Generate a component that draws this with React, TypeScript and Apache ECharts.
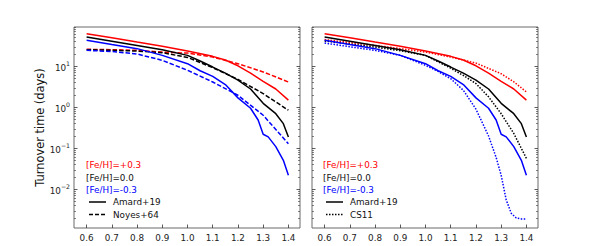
import React, { useEffect, useRef } from "react";
import * as echarts from "echarts";

// ---- data (mass in Msun, turnover time in days) ----
const AMARD_P03_M = [0.6, 0.7, 0.8, 0.9, 1.0, 1.1, 1.15, 1.2, 1.25, 1.3, 1.35, 1.4];
const AMARD_P03 = [62, 49.5, 39, 31, 23.7, 17.5, 14.3, 10.3, 6.8, 4.3, 2.8, 1.5];
const AMARD_00_M = [0.6, 0.7, 0.8, 0.9, 1.0, 1.05, 1.1, 1.15, 1.2, 1.25, 1.3, 1.35, 1.38, 1.4];
const AMARD_00 = [52, 41, 32.4, 25.5, 18.5, 13.5, 9.6, 6.8, 4.6, 2.8, 1.25, 0.7, 0.4, 0.19];
const AMARD_M03_M = [0.6, 0.7, 0.8, 0.9, 1.0, 1.05, 1.1, 1.15, 1.2, 1.25, 1.28, 1.3, 1.32, 1.35, 1.38, 1.4];
const AMARD_M03 = [43, 34, 27, 18.5, 11.6, 7.8, 5.7, 3.6, 1.7, 0.95, 0.49, 0.22, 0.19, 0.11, 0.051, 0.022];

const NOYES_M = [0.6, 0.7, 0.8, 0.9, 1.0, 1.1, 1.2, 1.3, 1.4];
const NOYES_P03 = [26, 25.5, 24.5, 22.3, 21, 16.8, 11.6, 7.3, 4.15];
const NOYES_00 = [25.5, 24.6, 23.6, 21.5, 16.5, 9.3, 4.8, 2.16, 0.85];
const NOYES_M03 = [24.5, 23, 20, 14, 8, 4.15, 1.97, 0.64, 0.13];

const CS11_P03_M = [0.6, 0.7, 0.8, 0.9, 1.0, 1.1, 1.2, 1.3, 1.35, 1.4];
const CS11_P03 = [45, 38, 32.4, 27, 22.3, 16.8, 12, 6.6, 4.2, 2.37];
const CS11_00_M = [0.6, 0.7, 0.8, 0.9, 1.0, 1.1, 1.15, 1.2, 1.25, 1.3, 1.35, 1.4];
const CS11_00 = [41.5, 35, 29.5, 24, 18.5, 9, 6, 3.8, 1.8, 0.7, 0.23, 0.057];
const CS11_M03_M = [0.6, 0.7, 0.8, 0.9, 1.0, 1.05, 1.1, 1.15, 1.2, 1.25, 1.28, 1.3, 1.32, 1.34, 1.36, 1.38, 1.4];
const CS11_M03 = [37, 30, 24.5, 18.5, 10.6, 7.5, 5, 2.6, 0.9, 0.2, 0.06, 0.022, 0.0055, 0.0026, 0.002, 0.0019, 0.0019];

const X_TICKS = [0.6, 0.7, 0.8, 0.9, 1.0, 1.1, 1.2, 1.3, 1.4];
const Y_MAJOR = [0.01, 0.1, 1, 10];
const Y_DECADES = [-3, -2, -1, 0, 1];
const Y_MINOR_MULT = [2, 3, 4, 5, 6, 7, 8, 9];

const X_MIN = 0.55;
const X_MAX = 1.446;
const Y_MIN = 0.00114;
const Y_MAX = 91;

const RED = "#ff0000";
const BLACK = "#000000";
const BLUE = "#0000ff";
const FONT = "DejaVu Sans";
const TICK_FS = 8.8;
const LEGEND_FS = 8.8;

const Y_MINOR = Y_DECADES.flatMap((d) => Y_MINOR_MULT.map((m) => m * Math.pow(10, d))).filter(
  (v) => v >= Y_MIN && v <= Y_MAX
);

const pairs = (m: number[], v: number[]) => m.map((x, i) => [x, v[i]]);

const DASH = [4.5, 2];
const DOT = [1.5, 1.5];

function lineSeries(m: number[], v: number[], color: string, dash: number[] | null, g: number) {
  return {
    type: "line",
    xAxisIndex: g,
    yAxisIndex: g * 4,
    data: pairs(m, v),
    symbol: "none",
    silent: true,
    lineStyle: { color, width: 1.5, type: dash ? dash : "solid", cap: "butt" },
    itemStyle: { color },
  };
}

const GRIDS = [
  { left: 74, top: 27, width: 226, height: 201 },
  { left: 312, top: 27, width: 226, height: 201 },
];

const TICK_COLOR = "#333";

function yAxes(g: number) {
  const base = {
    type: "log",
    gridIndex: g,
    min: Y_MIN,
    max: Y_MAX,
    axisLine: { show: false },
    splitLine: { show: false },
    minorTick: { show: false },
  };
  const supFmt = (v: number) => {
    const e = Math.round(Math.log10(v));
    return `{b|10}{s|${e < 0 ? "\u2212" + -e : e}}`;
  };
  return [
    {
      ...base,
      position: "left",
      axisTick: { show: true, inside: true, length: 3.5, customValues: Y_MAJOR, lineStyle: { color: TICK_COLOR, width: 0.8 } },
      axisLabel: {
        show: g === 0,
        customValues: Y_MAJOR,
        margin: 4,
        formatter: supFmt,
        rich: {
          b: { fontSize: TICK_FS, fontFamily: FONT, color: "#222", lineHeight: 12, verticalAlign: "bottom" },
          s: { fontSize: 6.2, fontFamily: FONT, color: "#222", lineHeight: 6, verticalAlign: "top" },
        },
      },
      name: g === 0 ? "Turnover time (days)" : "",
      nameLocation: "middle",
      nameGap: 24,
      nameTextStyle: { fontSize: 11.4, fontFamily: FONT, color: "#111" },
    },
    {
      ...base,
      position: "left",
      axisTick: { show: true, inside: true, length: 2, customValues: Y_MINOR, lineStyle: { color: TICK_COLOR, width: 0.6 } },
      axisLabel: { show: false },
    },
    {
      ...base,
      position: "right",
      axisTick: { show: true, inside: true, length: 3.5, customValues: Y_MAJOR, lineStyle: { color: TICK_COLOR, width: 0.8 } },
      axisLabel: { show: false },
    },
    {
      ...base,
      position: "right",
      axisTick: { show: true, inside: true, length: 2, customValues: Y_MINOR, lineStyle: { color: TICK_COLOR, width: 0.6 } },
      axisLabel: { show: false },
    },
  ];
}

function xAxis(g: number) {
  return {
    type: "value",
    gridIndex: g,
    min: X_MIN,
    max: X_MAX,
    axisLine: { show: false },
    splitLine: { show: false },
    axisTick: { show: true, inside: true, length: 3.5, customValues: X_TICKS, lineStyle: { color: TICK_COLOR, width: 0.8 } },
    axisLabel: {
      customValues: X_TICKS,
      margin: 5,
      fontSize: TICK_FS,
      fontFamily: FONT,
      color: "#222",
      formatter: (v: number) => v.toFixed(1),
    },
  };
}

function legendGraphics(x0: number, second: string, secondDash: number[]) {
  const font = `${LEGEND_FS}px "${FONT}"`;
  const t = (text: string, x: number, y: number, fill: string) => ({
    type: "text",
    x,
    y,
    silent: true,
    style: { text, fill, font, align: "left", verticalAlign: "middle" },
  });
  return [
    t("[Fe/H]=+0.3", x0, 165, RED),
    t("[Fe/H]=0.0", x0, 177.5, "#111"),
    t("[Fe/H]=-0.3", x0, 190, BLUE),
    {
      type: "line",
      silent: true,
      shape: { x1: x0 + 3, y1: 202, x2: x0 + 20, y2: 202 },
      style: { stroke: BLACK, lineWidth: 1.5 },
    },
    t("Amard+19", x0 + 27, 202, "#111"),
    {
      type: "line",
      silent: true,
      shape: { x1: x0 + 3, y1: 214.5, x2: x0 + 20, y2: 214.5 },
      style: { stroke: BLACK, lineWidth: 1.5, lineDash: secondDash },
    },
    t(second, x0 + 27, 214.5, "#111"),
  ];
}

export default function App() {
  const ref = useRef<HTMLDivElement>(null);
  useEffect(() => {
    if (!ref.current) return;
    const chart = echarts.init(ref.current, null, { renderer: "svg" });
    chart.setOption({
      animation: false,
      backgroundColor: "#ffffff",
      textStyle: { fontFamily: FONT },
      grid: GRIDS.map((g) => ({ ...g, show: true, borderColor: "#6a6a6a", borderWidth: 1, backgroundColor: "transparent" })),
      xAxis: [xAxis(0), xAxis(1)],
      yAxis: [...yAxes(0), ...yAxes(1)],
      series: [
        lineSeries(NOYES_M, NOYES_P03, RED, DASH, 0),
        lineSeries(NOYES_M, NOYES_00, BLACK, DASH, 0),
        lineSeries(NOYES_M, NOYES_M03, BLUE, DASH, 0),
        lineSeries(AMARD_P03_M, AMARD_P03, RED, null, 0),
        lineSeries(AMARD_00_M, AMARD_00, BLACK, null, 0),
        lineSeries(AMARD_M03_M, AMARD_M03, BLUE, null, 0),
        lineSeries(CS11_P03_M, CS11_P03, RED, DOT, 1),
        lineSeries(CS11_00_M, CS11_00, BLACK, DOT, 1),
        lineSeries(CS11_M03_M, CS11_M03, BLUE, DOT, 1),
        lineSeries(AMARD_P03_M, AMARD_P03, RED, null, 1),
        lineSeries(AMARD_00_M, AMARD_00, BLACK, null, 1),
        lineSeries(AMARD_M03_M, AMARD_M03, BLUE, null, 1),
      ],
      graphic: [...legendGraphics(86, "Noyes+64", [4, 2]), ...legendGraphics(323, "CS11", [1.5, 1.5])],
    });
    return () => chart.dispose();
  }, []);
  return <div ref={ref} style={{ position: "absolute", left: 0, top: 0, width: 598, height: 246 }} />;
}
